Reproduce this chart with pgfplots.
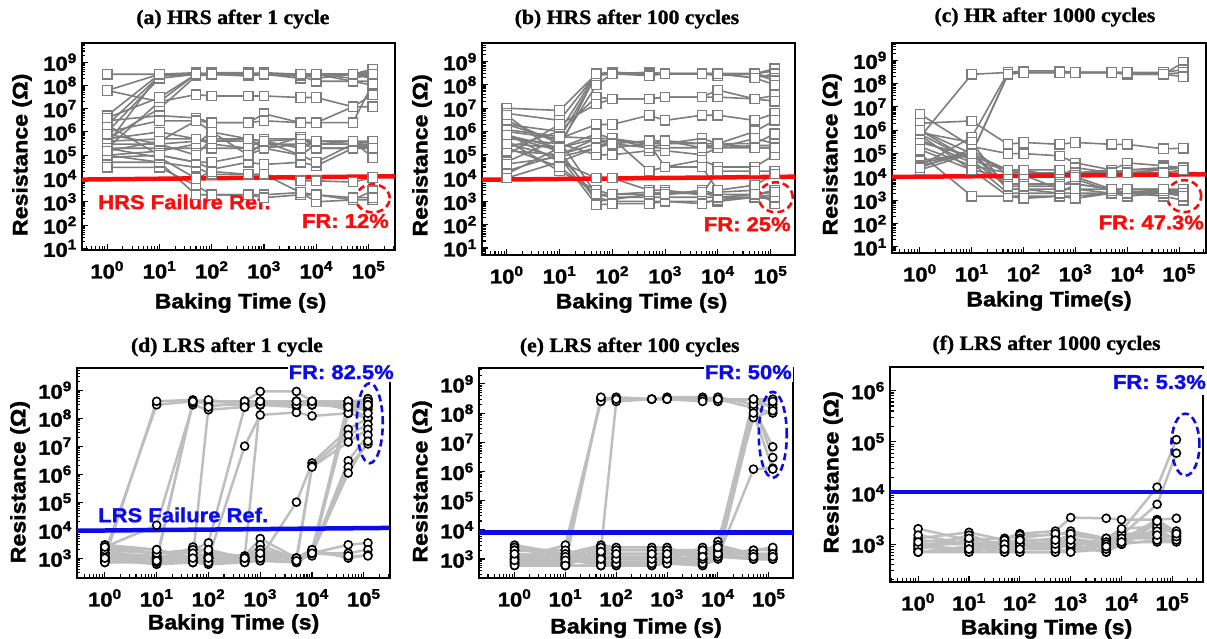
\documentclass[border=0pt]{standalone}
\usepackage{fontspec}
\setmainfont{Liberation Sans}[FakeStretch=1.1, BoldFeatures={FakeBold=1.5}]
\newfontfamily\titlefont{Liberation Serif}[FakeStretch=1.06, BoldFeatures={FakeBold=1.2}]
\usepackage{pgfplots}
\usepackage{pgfplotstable}
\pgfplotsset{compat=1.18}

\definecolor{hrsgray}{RGB}{125,125,125}
\definecolor{lrsgray}{RGB}{190,190,190}
\definecolor{hrsred}{RGB}{250,12,12}
\definecolor{lrsblue}{RGB}{12,12,235}

% one row per device, columns = baking times; transposed below
\pgfplotstableread{
d   c1    c2    c3    c4    c5    c6    c7    c8    c9    c10
t   1     10    50    100   500   1000  5000  10000 50000 120000
a1  3e8   3e8   3e8   3e8   3e8   3e8   3e8   3e8   3e8   4e8
a2  6e7   3e8   3e8   3.5e8 3.5e8 3e8   2.5e8 3e8   2e8   3e8
a3  5e6   3e8   3.5e8 3e8   3e8   3e8   3e8   2e8   3e8   5e8
a4  2e6   2.5e8 3e8   3e8   3e8   3.5e8 3e8   3e8   3e8   2e8
a5  1e6   2e8   3e8   3e8   2.5e8 3e8   2e8   3e8   1.5e8 1e8
a6  3e5   3e8   3e8   3e8   3e8   3e8   3e8   3e8   3e8   3e8
a7  2e5   2e7   3e8   3e8   3e8   3e8   3e8   3e8   3e8   2e8
a8  5e5   1e7   2.5e8 3e8   3.5e8 3e8   2.5e8 1.5e8 1.5e8 1.5e8
a9  6e7   2e7   4e7   3.5e7 3.5e7 3.5e7 3e7   3e7   1.2e7 4e7
a10 3e6   5e6   4e6   2.5e6 2.5e6 6e6   2.5e6 2.5e6 2.5e6 1.2e8
a11 1e6   3e6   3e6   2.5e6 2.5e6 3e6   2.5e6 2.5e6 1.2e7 1.2e7
a12 4e5   5e5   5e5   4e5   5e5   4e5   5e5   4e5   4e5   4e5
a13 3e5   3e5   4e5   4e5   4e5   3e5   3e5   3e5   3e5   2e5
a14 2e5   2e5   2e5   2e5   2e5   2e5   6e5   2e5   2e5   2.5e5
a15 1e5   1.5e5 3e5   1e6   1e5   4e5   1e5   3e5   4e5   8e4
a16 8e4   1e5   5e4   2.5e4 5e4   4e4   5e4   3.5e4 2e5   2e5
a17 5e4   5e4   3e4   1.5e4 1.5e4 1.5e4 8e3   8e3   7e3   1.1e4
a18 3e4   3e4   5e3   2e3   2e3   2e3   2.5e3 1e3   1.2e3 1.2e3
a19 1e5   5e4   2e3   2e3   2e3   1.5e3 2e3   2e3   1.2e3 3e3
a20 2e5   8e4   1e4   2e4   1.5e4 1.5e4 2.5e3 2e3   1.5e3 1.5e3
a21 5e5   1e6   5e5   3e5   2e5   5e5   5e5   3e5   3e5   3e5
a22 2e6   1e5   5e4   5e4   1e5   2e5   1e5   5e4   3e5   4e5
a23 8e5   3e5   1e5   5e5   5e5   2e5   3e5   2e5   2e5   2e5
a24 4e6   3e7   3e8   3e8   3e8   3e8   3e8   3e8   3e8   3e8
a25 1.5e5 4e5   3e6   1e6   5e5   4e5   2e5   4e5   4e5   2e5
}\rawA

\pgfplotstableread{
d   c1    c2    c3    c4    c5    c6    c7    c8    c9    c10
t   1     10    50    100   500   1000  5000  10000 50000 120000
a1  1e7   8e6   3e8   3e8   3e8   3e8   3e8   3e8   3e8   4e8
a2  6e6   3e6   3e8   3.5e8 3e8   3e8   3e8   3e8   3e8   5e8
a3  2e6   1e6   3e8   3e8   3.5e8 3e8   3e8   3e8   2e8   3e8
a4  1e6   5e5   2.5e8 3e8   3e8   3e8   3e8   2.5e8 3e8   2e8
a5  5e5   3e5   1e8   3e8   3e8   3e8   3e8   3e8   3e8   1.5e8
a6  3e5   2e5   3e8   3e8   2.5e8 3e8   3e8   3e8   2e8   1e8
a7  2e5   1e6   3e7   2.5e7 2.5e7 3e7   3e7   3e7   2.5e7 3.5e7
a8  1e5   2e6   1.5e7 2.5e7 2.5e7 3e7   3e7   6e7   2.5e7 2e7
a9  5e4   5e5   2e6   2e6   5e6   3e6   5e6   5e6   3e6   6e6
a10 2e4   1e5   5e5   2e5   3e5   3e5   5e5   3e5   1e6   3e6
a11 1.5e4 2e5   5e5   5e5   2e5   2e5   2e5   2e5   2.5e5 2.5e5
a12 1e4   5e4   2e5   4e5   3e5   4e5   3e5   3e5   3e5   8e5
a13 3e6   3e5   1e5   1e5   1.5e5 1.5e5 1e5   2e5   2e5   2e5
a14 5e6   1e5   3e5   5e5   2e4   3e4   6e4   3e4   3e4   1e5
a15 8e5   5e4   1e4   1e4   3e3   3e3   2e3   2e4   2e4   2e4
a16 4e5   2e4   3e3   2e3   2e3   2e3   3e3   2e3   2e3   3e3
a17 2e5   3e4   2e3   1.5e3 1.5e3 1.5e3 1.5e3 1.5e3 1.5e3 2e3
a18 1.5e5 1e5   1.5e3 1e3   1e3   1e3   1e3   1e3   1.5e3 1.2e3
a19 6e5   1.5e5 1e3   1.2e3 2e3   2.5e3 2e3   2.5e3 3e3   8e2
a20 3e5   8e4   7e2   8e2   8e2   1e3   8e2   1.2e3 1.5e3 1.5e3
a21 2e6   4e5   2e3   2e3   2.5e3 2e3   2.5e3 1.5e3 2e3   2.5e3
a22 1.2e6 6e5   5e5   3e5   2e5   3e5   3e5   2e5   5e5   3e5
a23 7e5   2e5   8e5   5e5   3e5   3e4   3e4   3e3   5e3   1.5e4
a24 4e4   8e4   2e5   3e5   4e5   4e5   2e5   3e5   2e5   2e5
}\rawB

\pgfplotstableread{
d   c1    c2    c3    c4    c5    c6    c7    c8    c9    c10
t   1     10    50    100   500   1000  5000  10000 50000 120000
a1  5e5   2.5e8 3e8   3.5e8 3.5e8 3e8   3e8   2.5e8 2.5e8 8e8
a2  4e4   1e5   2.5e8 3e8   3e8   3e8   3e8   3e8   3e8   4e8
a3  3e4   5e5   3e8   3e8   3e8   3e8   3e8   2.5e8 2.5e8 3e8
a4  2e4   1e5   2.5e8 3e8   3e8   3e8   3e8   3e8   2.5e8 2e8
a5  2e6   2.5e6 2.5e5 3e5   2.5e5 3e5   2.5e5 2.5e5 1.6e5 1.7e5
a6  5e6   2e5   1e5   1e5   8e4   4e4   2e4   4e4   3e4   2.5e4
a7  1e6   5e4   2e4   2e4   1e4   2.5e4 1.5e4 2e4   2e4   2.5e4
a8  6e5   2e4   1e4   1e4   1.5e4 1.5e4 2e4   1.5e4 2e4   2.5e4
a9  3e5   8e4   2e4   1.5e4 1.2e4 1.5e4 1.5e4 2e4   2.5e4 2.5e4
a10 2e5   3e4   1.5e4 1.5e4 1.5e4 1.2e4 1.5e4 1.5e4 1.5e4 2e4
a11 1e5   1.5e3 1.5e3 1.5e3 1.5e3 1.5e3 2e3   2e3   2e3   2e3
a12 5e4   1e5   5e3   5e3   5e3   5e3   3e3   3e3   3e3   3e3
a13 8e5   3e5   3e3   3e3   3e3   3e3   3e3   2e3   2e3   1.5e3
a14 4e5   4e4   2e3   2e3   2e3   2e3   2e3   2e3   1.5e3 1e3
a15 1.5e5 2e4   1.5e3 1.2e3 1.5e3 1.2e3 2e3   1.5e3 2e3   2e3
a16 3e4   1e5   3e3   3e3   2e3   5e3   3e3   3e3   2.5e3 2.5e3
a17 2.5e4 1.5e5 1.2e4 1.2e4 3e3   3e3   2e3   2.5e3 2e3   3e3
a18 7e5   5e4   4e3   4e3   4e3   8e3   2.5e3 2e3   2.5e3 2e3
a19 1e6   1e5   2e4   2e4   2e4   1e4   3e3   3e3   3e3   1.5e3
}\rawC

\pgfplotstableread{
d   c1    c2    c3    c4    c5    c6    c7    c8    c9    c10
t   1     10    50    100   500   1000  5000  10000 50000 120000
a1  1.5e3 3e8   4e8   4e8   4e8   3.5e8 3e8   3.5e8 3e8   3.5e8
a2  1e3   4e8   4.5e8 3e8   3e8   4e8   4e8   3e8   4e8   4.5e8
a3  2.5e3 1.5e4 3e8   2e8   2.5e8 3e8   2.5e8 4e8   2e8   3e8
a4  8e2   1e3   3.5e8 4e8   4e8   9e8   9e8   4e8   3e8   2e8
a5  2e3   8e2   4e8   4.5e8 3e8   3e8   4e8   3e8   2.5e8 1e8
a6  1e3   1e3   1e3   2.5e8 4e8   4e8   3e8   3e8   3e8   5e8
a7  7e2   7e2   8e2   1e3   1e7   1.3e8 1.6e8 1.2e8 1.5e8 1e8
a8  1.2e3 1e3   2e3   3.5e3 2.5e8 3e8   3e8   3e8   4e8   4e8
a9  3e3   2e3   1e3   8e2   1e3   4e8   4e8   4e8   4e8   3e8
a10 9e2   6e2   7e2   7e2   8e2   1e3   1e5   2.5e6 4e7   1e8
a11 1.5e3 1.2e3 1e3   1e3   8e2   2e3   1e3   2e6   2.5e7 6e7
a12 2e3   1.5e3 1.5e3 1.2e3 1e3   1.5e3 8e2   1.8e6 1.4e7 4e7
a13 8e2   9e2   7e2   6e2   7e2   8e2   7e2   1.5e3 3e6   2.5e7
a14 1e3   7e2   2.5e3 1.5e3 1.2e3 5e3   1e3   1.8e3 1.8e6 1.2e7
a15 1.2e3 1e3   1.2e3 1e3   1e3   3e3   9e2   1.5e3 1.1e6 1.5e7
a16 2.5e3 1.5e3 2e3   2e3   8e2   2e3   8e2   1.5e3 1.5e8 3e8
a17 8e2   8e2   9e2   8e2   1e3   1.2e3 1e3   1.2e3 3e8   2.5e8
a18 1e3   1.2e3 8e2   1e3   9e2   1.5e3 8e2   1.5e3 4e8   1.5e8
a19 7e2   9e2   1e3   1.2e3 8e2   1e3   1e3   2e3   2.5e8 3e8
a20 1.5e3 1e3   1e3   1e3   1e3   1.2e3 1e3   1.5e3 3e3   3.5e3
a21 1e3   8e2   7e2   7e2   7e2   1e3   7e2   1.5e3 1.5e3 2e3
a22 2e3   1.5e3 1.5e3 2e3   1e3   2e3   1e3   2e3   1e3   1.3e3
a23 2.5e3 2e3   1e3   1e3   1e3   1.5e3 8e2   1.5e3 1.2e3 1.2e3
}\rawD

\pgfplotstableread{
d   c1    c2    c3    c4    c5    c6    c7    c8    c9    c10
t   1     10    50    100   500   1000  5000  10000 50000 120000
a1  2e3   2e3   3e8   3e8   3e8   3.5e8 3.5e8 3e8   3e8   3e8
a2  1e3   3e3   2.5e8 3.5e8 3e8   3e8   3e8   3.5e8 2e8   2e8
a3  1.5e3 1e3   2e3   2.5e8 3e8   3e8   3e8   2.5e8 3e8   1.5e8
a4  8e2   7e2   3.5e8 3e8   3e8   3e8   2.5e8 3e8   1.5e8 1e8
a5  3e3   1.5e3 3e3   2.5e3 2.5e3 2.5e3 1e3   4e3   7e7   1.2e8
a6  1.2e3 1e3   1e3   1e3   1e3   1e3   2.5e3 2e3   1.5e8 7e6
a7  7e2   8e2   1.5e3 1.5e3 1.5e3 1.5e3 1.5e3 1.5e3 2e8   3e6
a8  2.5e3 1.2e3 7e2   7e2   7e2   8e2   7e2   1.2e3 1.2e6 1.3e6
a9  6e2   6e2   6e2   6e2   6e2   7e2   6e2   1e3   1e8   1.2e6
a10 1e3   6e2   2e3   2e3   2e3   2e3   1.5e3 3e3   3e8   2.5e8
a11 2e3   2e3   1e3   1e3   1e3   1e3   1e3   1.5e3 1e3   1e3
a12 1.5e3 1.2e3 7e2   8e2   8e2   1e3   8e2   2e3   1.5e3 1.2e3
a13 8e2   7e2   1.2e3 1.2e3 1.2e3 1.2e3 1e3   1.5e3 2e3   2e3
a14 1e3   1e3   6e2   6e2   6e2   8e2   6e2   1.2e3 1.2e3 1.2e3
a15 7e2   7e2   1.5e3 1.5e3 1.5e3 1.5e3 2e3   3e3   1.5e3 1.5e3
a16 2e3   1.5e3 8e2   8e2   8e2   7e2   8e2   1.2e3 1e3   1e3
a17 1.2e3 1.2e3 2.5e3 2e3   2e3   2e3   2e3   1.5e3 2e3   2.5e3
a18 6e2   6e2   6e2   7e2   7e2   7e2   7e2   1.2e3 1e3   1e3
a19 9e2   9e2   1e3   1e3   1e3   1e3   1e3   1.5e3 1.5e3 1.5e3
a20 1.5e3 6e2   1.8e3 1.5e3 1.5e3 1.5e3 1.2e3 2.5e3 1.2e3 1.2e3
}\rawE

\pgfplotstableread{
d   c1    c2    c3    c4    c5    c6    c7    c8    c9    c10
t   1     10    50    100   500   1000  5000  10000 50000 120000
a1  2e3   1.2e3 1.3e3 1.6e3 1.8e3 3.3e3 3.2e3 3e3   3e3   3.2e3
a2  1.3e3 1.7e3 1.2e3 1.5e3 1.5e3 1.8e3 1.3e3 1.8e3 1.3e4 1.1e5
a3  1e3   1e3   1e3   1.2e3 1.2e3 1.5e3 1.2e3 1.5e3 6e3   6e4
a4  9e2   8e2   9e2   1e3   1e3   1.2e3 8e2   1.2e3 3e3   1.7e3
a5  8e2   1.2e3 8e2   8e2   8e2   1e3   7e2   1e3   2.5e3 1.5e3
a6  7e2   7e2   7e2   7e2   7e2   7e2   1.2e3 1e3   2e3   1.2e3
a7  1.2e3 1e3   1.1e3 1.1e3 1.3e3 1.3e3 1e3   1.6e3 1.6e3 1.3e3
a8  7e2   9e2   7e2   9e2   9e2   9e2   7e2   1.1e3 1.1e3 1.1e3
a9  1e3   7e2   1e3   1.3e3 1.6e3 1.6e3 1.3e3 2e3   2.2e3 1.6e3
a10 8e2   1.5e3 9e2   7e2   7e2   8e2   9e2   1.3e3 1.3e3 1.4e3
a11 1.5e3 1e3   8e2   1e3   1.1e3 1.2e3 1.1e3 1.2e3 1.8e3 1.8e3
a12 9e2   8e2   1.2e3 1e3   8e2   7e2   8e2   1e3   1.2e3 1.2e3
a13 1.1e3 1.3e3 1e3   8e2   1e3   1e3   1e3   1.3e3 1.5e3 1.4e3
a14 7e2   8e2   8e2   1.2e3 1.2e3 1.2e3 9e2   1.1e3 2.8e3 1.6e3
}\rawF

\pgfplotstabletranspose[colnames from=d]{\tabA}{\rawA}
\pgfplotstabletranspose[colnames from=d]{\tabB}{\rawB}
\pgfplotstabletranspose[colnames from=d]{\tabC}{\rawC}
\pgfplotstabletranspose[colnames from=d]{\tabD}{\rawD}
\pgfplotstabletranspose[colnames from=d]{\tabE}{\rawE}
\pgfplotstabletranspose[colnames from=d]{\tabF}{\rawF}

\pgfplotsset{
  every axis/.append style={
    scale only axis, anchor=south west, clip=false,
    axis line style={line width=2pt},
    tick pos=left, tick align=inside,
    major tick length=6pt, minor tick length=3.5pt,
    tick style={black, line width=1.1pt},
    max space between ticks=20,
    tick label style={font=\fontsize{20}{22}\selectfont\bfseries},
    yticklabel style={anchor=east, inner sep=2pt, xshift=-3pt},
    xticklabel style={anchor=north, inner sep=2pt, yshift=-9pt},
    title style={anchor=center, font=\titlefont\bfseries\fontsize{20.5}{23}\selectfont},
    ylabel={Resistance (Ω)},
  },
  every axis x label/.style={at={(rel axis cs:0.5,0)}, anchor=center,
    font=\fontsize{21}{24}\selectfont\bfseries},
  every axis y label/.style={rotate=90, anchor=center,
    font=\fontsize{21}{24}\selectfont\bfseries},
  hrs/.style={color=hrsgray, line width=1.6pt, mark=square*, mark size=4.7pt,
    mark options={draw=hrsgray, fill=white, line width=1.3pt, solid}},
  lrs/.style={color=lrsgray, line width=2.5pt, mark=*, mark size=4pt,
    mark options={draw=black, fill=white, line width=1.6pt, solid}},
}
\tikzset{
  ann/.style={font=\fontsize{20}{22}\selectfont\bfseries, inner sep=1pt},
  ring/.style={dash pattern=on 7pt off 4pt, line width=2.6pt},
}
\newcommand{\tenlabel}{10\textsuperscript{\pgfmathparse{int(round(\tick/ln(10)))}\pgfmathresult}}

\begin{document}
\begin{tikzpicture}
\path[use as bounding box] (0,0) rectangle (1207pt,639pt);

% (a)
\begin{loglogaxis}[at={(82pt,389pt)}, width=313pt, height=207pt,
  xticklabel={\tenlabel}, yticklabel={\tenlabel},
  xmin=0.33, xmax=3.2e5, ymin=8.5, ymax=6.6e9,
  title={(a) HRS after 1 cycle}, title style={at={(rel axis cs:0.482,1)}, yshift=18pt},
  xlabel={Baking Time (s)}, xlabel style={yshift=-53pt, xshift=2pt},
  ylabel style={at={([xshift=-60pt]rel axis cs:0,0.46)}}]
\pgfplotsinvokeforeach{1,...,25}{\addplot[hrs] table[x=t, y=a#1]{\tabA};}
\addplot[hrsred, line width=4.5pt, no marks] coordinates {(0.33,9e3) (3.2e5,1.25e4)};
\node[ann, anchor=west, text=hrsred] at (rel axis cs:0.048,0.232) {HRS Failure Ref.};
\node[ann, anchor=east, text=hrsred] at (rel axis cs:0.984,0.14) {FR: 12\%};
\draw[hrsred, ring] (axis cs:1.2e5,1.4e3) ellipse [x radius=17pt, y radius=14pt];
\end{loglogaxis}

% (b)
\begin{loglogaxis}[at={(482pt,384pt)}, width=313pt, height=212pt,
  xticklabel={\tenlabel}, yticklabel={\tenlabel},
  xmin=0.34, xmax=2.9e5, ymin=5, ymax=6.3e9,
  title={(b) HRS after 100 cycles}, title style={at={(rel axis cs:0.463,1)}, yshift=18pt},
  xlabel={Baking Time (s)}, xlabel style={yshift=-48pt, xshift=3pt},
  ylabel style={at={([xshift=-60pt]rel axis cs:0,0.47)}}]
\pgfplotsinvokeforeach{1,...,24}{\addplot[hrs] table[x=t, y=a#1]{\tabB};}
\addplot[hrsred, line width=4.5pt, no marks] coordinates {(0.34,8.5e3) (2.9e5,1.15e4)};
\node[ann, anchor=east, text=hrsred] at (rel axis cs:0.99,0.145) {FR: 25\%};
\draw[hrsred, ring] (axis cs:1.25e5,1.5e3) ellipse [x radius=17pt, y radius=15pt];
\end{loglogaxis}

% (c)
\begin{loglogaxis}[at={(892pt,386pt)}, width=314pt, height=210pt,
  xticklabel={\tenlabel}, yticklabel={\tenlabel},
  xmin=0.29, xmax=3.3e5, ymin=5.5, ymax=5.5e9,
  title={(c) HR after 1000 cycles}, title style={at={(rel axis cs:0.487,1)}, yshift=20pt},
  xlabel={Baking Time(s)}, xlabel style={yshift=-48pt},
  ylabel style={at={([xshift=-60pt]rel axis cs:0,0.47)}}]
\pgfplotsinvokeforeach{1,...,19}{\addplot[hrs] table[x=t, y=a#1]{\tabC};}
\addplot[hrsred, line width=4.5pt, no marks] coordinates {(0.29,1e4) (3.3e5,1.3e4)};
\node[ann, anchor=east, text=hrsred] at (rel axis cs:0.997,0.145) {FR: 47.3\%};
\draw[hrsred, ring] (axis cs:1.25e5,1.5e3) ellipse [x radius=17pt, y radius=16pt];
\end{loglogaxis}

% (d)
\begin{loglogaxis}[at={(77pt,61pt)}, width=313pt, height=210pt,
  xticklabel={\tenlabel}, yticklabel={\tenlabel},
  xmin=0.29, xmax=3.2e5, ymin=195, ymax=6.2e9,
  title={(d) LRS after 1 cycle}, title style={at={(rel axis cs:0.479,1)}, yshift=15pt},
  xlabel={Baking Time (s)}, xlabel style={yshift=-46pt},
  ylabel style={at={([xshift=-57pt]rel axis cs:0,0.457)}}]
\pgfplotsinvokeforeach{1,...,23}{\addplot[lrs] table[x=t, y=a#1]{\tabD};}
\addplot[lrsblue, line width=4.5pt, no marks] coordinates {(0.29,9.5e3) (3.2e5,1.2e4)};
\node[ann, anchor=west, text=lrsblue] at (rel axis cs:0.064,0.30) {LRS Failure Ref.};
\node[ann, anchor=east, text=lrsblue, fill=white, inner ysep=3pt] at (rel axis cs:1.016,0.98) {FR: 82.5\%};
\draw[lrsblue, ring] (axis cs:1.3e5,6.6e7) ellipse [x radius=13pt, y radius=40pt];
\end{loglogaxis}

% (e)
\begin{loglogaxis}[at={(479pt,61pt)}, width=314pt, height=210pt,
  xticklabel={\tenlabel}, yticklabel={\tenlabel},
  xmin=0.2, xmax=3e5, ymin=224, ymax=3.5e9,
  title={(e) LRS after 100 cycles}, title style={at={(rel axis cs:0.48,1)}, yshift=15pt},
  xlabel={Baking Time (s)}, xlabel style={yshift=-50pt},
  ylabel style={at={([xshift=-57pt]rel axis cs:0,0.46)}}]
\pgfplotsinvokeforeach{1,...,20}{\addplot[lrs] table[x=t, y=a#1]{\tabE};}
\addplot[lrsblue, line width=4.5pt, no marks] coordinates {(0.2,8e3) (3e5,8e3)};
\node[ann, anchor=east, text=lrsblue, fill=white, inner ysep=3pt] at (rel axis cs:1.0,0.98) {FR: 50\%};
\draw[lrsblue, ring] (axis cs:1.2e5,1.8e7) ellipse [x radius=14pt, y radius=43pt];
\end{loglogaxis}

% (f)
\begin{loglogaxis}[at={(890pt,57pt)}, width=313pt, height=215pt,
  xticklabel={\tenlabel}, yticklabel={\tenlabel},
  xmin=0.28, xmax=4e5, ymin=182, ymax=2.9e6,
  title={(f) LRS after 1000 cycles}, title style={at={(rel axis cs:0.5,1)}, yshift=16pt},
  xlabel={Baking Time (s)}, xlabel style={yshift=-47pt},
  ylabel style={at={([xshift=-57pt]rel axis cs:0,0.51)}}]
\pgfplotsinvokeforeach{1,...,14}{\addplot[lrs] table[x=t, y=a#1]{\tabF};}
\addplot[lrsblue, line width=4.5pt, no marks] coordinates {(0.28,1.05e4) (4e5,1.05e4)};
\node[ann, anchor=east, text=lrsblue, fill=white, inner ysep=6pt] at (rel axis cs:1.013,0.93) {FR: 5.3\%};
\draw[lrsblue, ring] ([xshift=9pt]axis cs:1.2e5,8.8e4) ellipse [x radius=14pt, y radius=31pt];
\end{loglogaxis}
\end{tikzpicture}
\end{document}
